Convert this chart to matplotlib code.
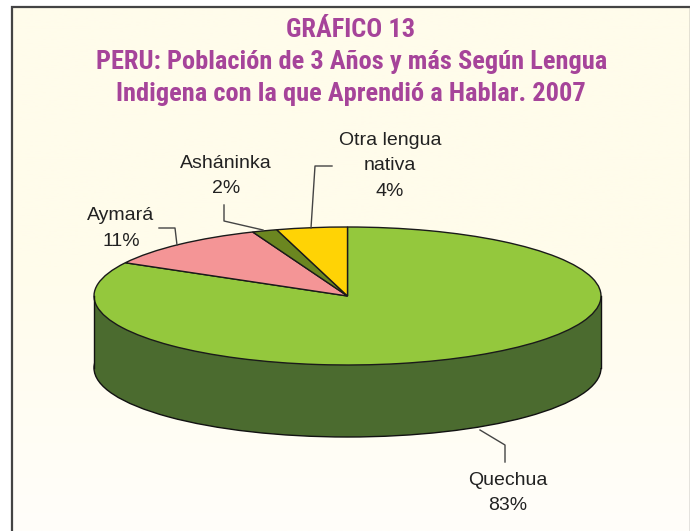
import numpy as np
import matplotlib
matplotlib.use("Agg")
import matplotlib.pyplot as plt
from matplotlib.colors import LinearSegmentedColormap
from matplotlib.patches import Ellipse, Rectangle

# Data
categories = ["Quechua", "Aymará", "Asháninka", "Otra lengua\nnativa"]
shares = [83.0, 10.9, 1.6, 4.5]          # slice sizes
shown = ["83%", "11%", "2%", "4%"]       # printed labels
colors = ["#94C83D", "#F49596", "#6B8620", "#FFD305"]
title_lines = ["GRÁFICO 13",
               "PERU: Población de 3 Años y más Según Lengua",
               "Indigena con la que Aprendió a Hablar. 2007"]

W, H = 690, 531
CX, CY, RX, RY, DEPTH = 347.5, 296.0, 253.5, 69.0, 72.0

fig = plt.figure(figsize=(W / 100, H / 100), dpi=100, facecolor="white")

# Page layer in pixel coordinates
bg = fig.add_axes([0, 0, 1, 1], zorder=0)
bg.set_xlim(0, W); bg.set_ylim(H, 0); bg.axis("off")
cmap = LinearSegmentedColormap.from_list("cream", ["#FFFCEB", "#FFFCEB", "#FFFEFA"])
bg.imshow(np.linspace(0, 1, 256).reshape(-1, 1), cmap=cmap, extent=(12, W, H, 7),
          aspect="auto", zorder=0)
bg.set_xlim(0, W); bg.set_ylim(H, 0)
bg.plot([12, 12, W], [H, 7, 7], color="#444444", lw=1.6, zorder=1, solid_joinstyle="miter")
bg.plot([W - 0.5, W - 0.5], [7, H], color="#777777", lw=1.0, zorder=1)

# Pie layer: unit circle squashed to the ellipse of the top face
ax = fig.add_axes([0, 0, 1, 1], zorder=1)
ax.patch.set_alpha(0)
d = DEPTH / RY
DARK = "#4B6B2F"
ax.add_patch(Ellipse((0, -d), 2, 2, fc=DARK, ec="#111111", lw=1.0))
ax.add_patch(Rectangle((-1, -d), 2, d, fc=DARK, ec="none"))
ax.plot([-1, -1], [-d, 0], color="#111111", lw=1.0)
ax.plot([1, 1], [-d, 0], color="#111111", lw=1.0)
ax.pie(shares, colors=colors, startangle=90, counterclock=False, radius=1,
       wedgeprops={"edgecolor": "#1a1a1a", "linewidth": 1.0})
ax.set_aspect("auto")
ax.set_xlim(-CX / RX, (W - CX) / RX)
ax.set_ylim(-(H - CY) / RY, CY / RY)
ax.axis("off")

# Annotation layer in pixel coordinates
top = fig.add_axes([0, 0, 1, 1], zorder=2)
top.set_xlim(0, W); top.set_ylim(H, 0); top.axis("off"); top.patch.set_alpha(0)

leaders = [
    ([480, 505, 505], [430, 445, 462]),
    ([159, 175, 177], [228, 228, 245]),
    ([224, 224, 263], [205, 221, 230]),
    ([332, 315, 311], [166, 166, 228]),
]
for xs, ys in leaders:
    top.plot(xs, ys, color="#444444", lw=1.0)

label_xy = [(508, 493), (121, 228.5), (226, 176), (390, 166)]
for cat, txt, (x, y) in zip(categories, shown, label_xy):
    top.text(x, y, f"{cat}\n{txt}", ha="center", va="center", ma="center", fontsize=14,
             family=["Liberation Sans", "DejaVu Sans"], color="#222222", linespacing=1.65)

for s, y, x in zip(title_lines, [30, 62, 94], [351, 352, 351]):
    top.text(x, y, s, ha="center", va="center", fontsize=19, fontweight="bold",
             family=["Roboto Condensed", "Liberation Sans"], color="#A6449A")

fig.savefig("out.png", dpi=100)
